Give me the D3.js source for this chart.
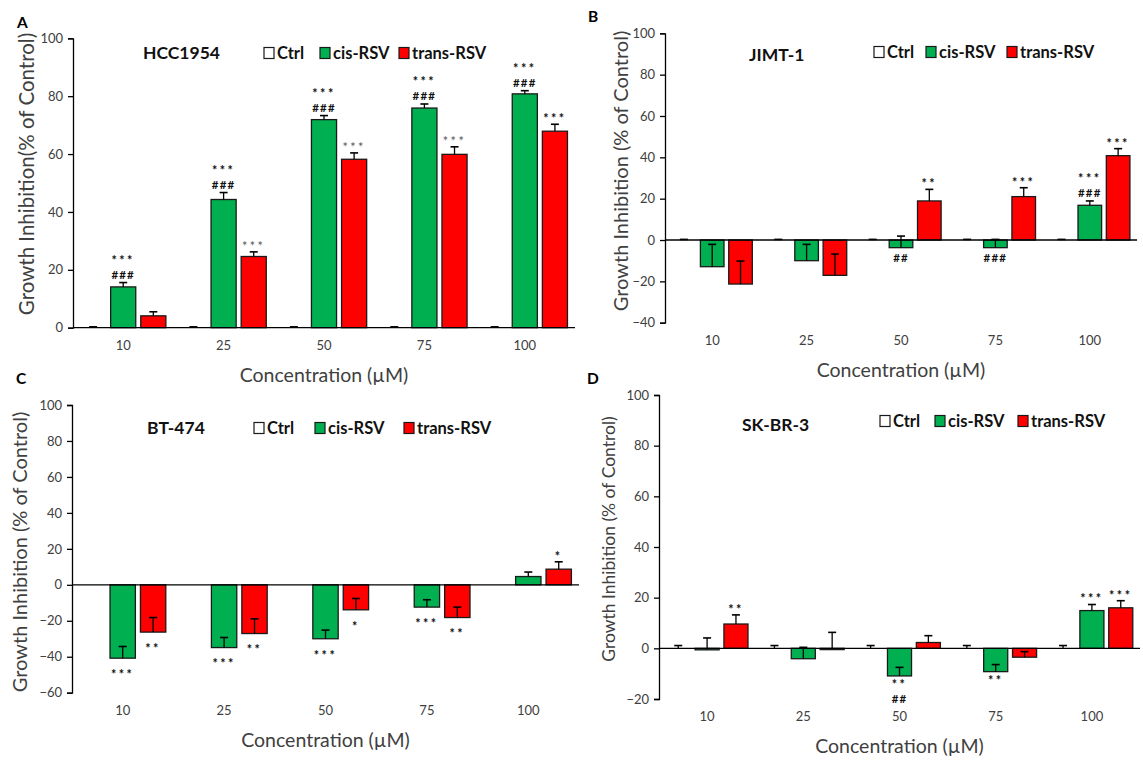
<!DOCTYPE html>
<html>
<head>
<meta charset="utf-8">
<script src="https://cdn.jsdelivr.net/npm/d3@7"></script>
<style>
  body { margin: 0; background: #fff; }
  svg text { font-family: Lato, "Open Sans", sans-serif; }
</style>
</head>
<body>
<svg id="chart" width="1143" height="761"></svg>
<script>
// categories / series
var categories = ["10", "25", "50", "75", "100"];
var seriesNames = ["Ctrl", "cis-RSV", "trans-RSV"];
var seriesColors = ["#ffffff", "#00b050", "#ff0000"];
var zeros = [0, 0, 0, 0, 0];

// A - HCC1954
var hccCtrlErr = [0.3, 0.3, 0.3, 0.3, 0.3];
var hccCis = [14.1, 44.3, 71.9, 75.9, 80.8];
var hccCisErr = [1.5, 2.4, 1.4, 1.4, 1.1];
var hccTrans = [4.1, 24.6, 58.2, 59.9, 67.9];
var hccTransErr = [1.4, 1.6, 2.2, 2.6, 2.4];
var hccMarks = [
  {s: 1, c: 0, t: ["***", "###"]}, {s: 1, c: 1, t: ["***", "###"]}, {s: 1, c: 2, t: ["***", "###"]},
  {s: 1, c: 3, t: ["***", "###"]}, {s: 1, c: 4, t: ["***", "###"]},
  {s: 2, c: 1, t: ["***"], light: true}, {s: 2, c: 2, t: ["***"], light: true},
  {s: 2, c: 3, t: ["***"], light: true}, {s: 2, c: 4, t: ["***"]}
];

// B - JIMT-1
var jimtCtrlErr = [0.3, 0.3, 0.3, 0.3, 0.3];
var jimtCis = [-12.9, -10.0, -3.7, -3.7, 16.8];
var jimtCisErr = [10.8, 7.9, 5.6, 4.0, 2.1];
var jimtTrans = [-21.3, -17.1, 18.9, 21.0, 40.8];
var jimtTransErr = [11.1, 10.3, 5.6, 4.3, 3.4];
var jimtMarks = [
  {s: 1, c: 2, t: ["##"]}, {s: 1, c: 3, t: ["###"]}, {s: 1, c: 4, t: ["***", "###"]},
  {s: 2, c: 2, t: ["**"]}, {s: 2, c: 3, t: ["***"]}, {s: 2, c: 4, t: ["***"]}
];

// C - BT-474
var btCtrlErr = [0, 0, 0, 0, 0];
var btCis = [-40.8, -34.9, -30.0, -12.4, 4.6];
var btCisErr = [6.5, 5.6, 4.8, 4.1, 2.5];
var btTrans = [-26.3, -27.1, -13.9, -18.2, 8.7];
var btTransErr = [8.1, 8.2, 6.3, 5.8, 4.1];
var btMarks = [
  {s: 1, c: 0, t: ["***"]}, {s: 1, c: 1, t: ["***"]}, {s: 1, c: 2, t: ["***"]}, {s: 1, c: 3, t: ["***"]},
  {s: 2, c: 0, t: ["**"]}, {s: 2, c: 1, t: ["**"]}, {s: 2, c: 2, t: ["*"]}, {s: 2, c: 3, t: ["**"]},
  {s: 2, c: 4, t: ["*"]}
];

// D - SK-BR-3
var skCtrlErr = [1.1, 1.1, 1.1, 1.1, 1.1];
var skCis = [-0.6, -4.1, -10.9, -9.2, 14.9];
var skCisErr = [4.7, 4.5, 3.4, 2.8, 2.4];
var skTrans = [9.6, -0.5, 2.3, -3.5, 16.0];
var skTransErr = [3.6, 6.8, 2.7, 2.2, 2.8];
var skMarks = [
  {s: 2, c: 0, t: ["**"]}, {s: 1, c: 2, t: ["**", "##"]}, {s: 1, c: 3, t: ["**"]},
  {s: 1, c: 4, t: ["***"]}, {s: 2, c: 4, t: ["***"]}
];

var panels = [
  {letter: "A", name: "HCC1954", vals: [zeros, hccCis, hccTrans], errs: [hccCtrlErr, hccCisErr, hccTransErr], marks: hccMarks,
   x0: 73, x1: 575, yTop: 38.3, yBot: 327.7, domain: [0, 100], ytitle: "Growth Inhibition(% of Control)",
   tx: 27, ty: 174, tsize: 20.5, nameX: 143, nameY: 59, legX: [264, 320, 399], legY: 53, lx: 17, ly: 28, gap: 12},
  {letter: "B", name: "JIMT-1", vals: [zeros, jimtCis, jimtTrans], errs: [jimtCtrlErr, jimtCisErr, jimtTransErr], marks: jimtMarks,
   x0: 665, x1: 1137, yTop: 33.3, yBot: 322.7, domain: [-40, 100], ytitle: "Growth Inhibition (% of Control)",
   tx: 621, ty: 171, tsize: 20, nameX: 749, nameY: 61, legX: [874, 926, 1007], legY: 52, lx: 588, ly: 22, gap: 10},
  {letter: "C", name: "BT-474", vals: [zeros, btCis, btTrans], errs: [btCtrlErr, btCisErr, btTransErr], marks: btMarks,
   x0: 72, x1: 579, yTop: 405, yBot: 692.7, domain: [-60, 100], ytitle: "Growth Inhibition (% of Control)",
   tx: 20, ty: 552, tsize: 20, nameX: 147, nameY: 434, legX: [254, 315, 404], legY: 428, lx: 16, ly: 384, gap: 14},
  {letter: "D", name: "SK-BR-3", vals: [zeros, skCis, skTrans], errs: [skCtrlErr, skCisErr, skTransErr], marks: skMarks,
   x0: 659, x1: 1140, yTop: 395, yBot: 699, domain: [-20, 100], ytitle: "Growth Inhibition (% of Control)",
   tx: 609, ty: 539, tsize: 17.5, nameX: 742, nameY: 431, legX: [880, 935, 1018], legY: 421, lx: 587, ly: 384, gap: 6}
];

var svg = d3.select("#chart");

panels.forEach(function(p) {
  var g = svg.append("g");
  var x = d3.scaleBand().domain(categories).range([p.x0, p.x1]);
  var bw = x.bandwidth();
  var inner = d3.scaleBand().domain(seriesNames).range([-0.45 * bw, 0.45 * bw])
    .paddingInner(1 / 6).paddingOuter(1 / 12);
  var y = d3.scaleLinear().domain(p.domain).range([p.yBot, p.yTop]);

  // y axis
  var ya = g.append("g").attr("transform", "translate(" + p.x0 + ",0)")
    .call(d3.axisLeft(y).tickValues(d3.range(p.domain[0], p.domain[1] + 1, 20)).tickSize(5).tickPadding(5));
  ya.selectAll("path,line").attr("stroke", "#000").attr("stroke-width", 1.3);
  ya.selectAll("text").attr("font-size", 13).attr("fill", "#404040");

  // category labels
  var xa = g.append("g").attr("transform", "translate(0," + (p.yBot + 13) + ")")
    .call(d3.axisBottom(x).tickSize(0).tickPadding(0));
  xa.select(".domain").remove();
  xa.selectAll("text").attr("font-size", 13).attr("fill", "#404040");

  // bars
  var rows = [];
  categories.forEach(function(c, i) {
    seriesNames.forEach(function(s, k) {
      rows.push({c: c, s: s, k: k, v: p.vals[k][i], e: p.errs[k][i]});
    });
  });
  var cx = function(d) { return x(d.c) + bw / 2 + inner(d.s) + inner.bandwidth() / 2; };

  g.selectAll("rect.bar").data(rows.filter(function(d) { return d.k > 0; })).enter().append("rect")
    .attr("class", "bar")
    .attr("x", function(d) { return x(d.c) + bw / 2 + inner(d.s); })
    .attr("width", inner.bandwidth())
    .attr("y", function(d) { return Math.min(y(d.v), y(0)); })
    .attr("height", function(d) { return Math.abs(y(d.v) - y(0)); })
    .attr("fill", function(d) { return seriesColors[d.k]; })
    .attr("stroke", "#1a1a1a").attr("stroke-width", 1.3);

  // zero line
  g.append("line").attr("x1", p.x0).attr("x2", p.x1).attr("y1", y(0)).attr("y2", y(0))
    .attr("stroke", "#000").attr("stroke-width", 1.3);

  // error bars (plus side only)
  var eb = g.selectAll("g.err").data(rows.filter(function(d) { return d.e > 0; })).enter().append("g");
  eb.append("line")
    .attr("x1", cx).attr("x2", cx)
    .attr("y1", function(d) { return y(d.v); })
    .attr("y2", function(d) { return y(d.v + d.e); })
    .attr("stroke", "#000").attr("stroke-width", 1.3);
  eb.append("line")
    .attr("x1", function(d) { return cx(d) - 4; }).attr("x2", function(d) { return cx(d) + 4; })
    .attr("y1", function(d) { return y(d.v + d.e); })
    .attr("y2", function(d) { return y(d.v + d.e); })
    .attr("stroke", "#000").attr("stroke-width", 1.6);

  // significance marks, one text per bar, one tspan per line
  p.marks.forEach(function(m) {
    var s = seriesNames[m.s];
    var v = p.vals[m.s][m.c], e = p.errs[m.s][m.c];
    var px = x(categories[m.c]) + bw / 2 + inner(s) + inner.bandwidth() / 2;
    var n = m.t.length;
    var t = g.append("text")
      .attr("text-anchor", "middle")
      .attr("font-weight", m.light ? "normal" : "bold")
      .attr("fill", m.light ? "#555" : "#111");
    m.t.forEach(function(txt, i) {
      var center = v >= 0 ? y(v + e) - 8 - 16.5 * (n - 1 - i) : y(v) + p.gap + 16.5 * i;
      var star = txt.charAt(0) === "*";
      var fs = star ? 12.5 : 11.5;
      t.append("tspan")
        .attr("x", px).attr("y", center + (star ? 0.55 : 0.36) * fs)
        .attr("font-size", fs)
        .attr("letter-spacing", star ? 2.5 : 1.2)
        .text(txt);
    });
  });

  // axis titles
  g.append("text").attr("x", (p.x0 + p.x1) / 2).attr("y", p.yBot + 54)
    .attr("text-anchor", "middle").attr("font-size", 19.5).attr("fill", "#404040")
    .text("Concentration (\u00b5M)");
  g.append("text").attr("transform", "translate(" + p.tx + "," + p.ty + ") rotate(-90)")
    .attr("text-anchor", "middle").attr("dy", "0.35em").attr("font-size", p.tsize).attr("fill", "#404040")
    .text(p.ytitle);

  // panel name
  g.append("text").attr("x", p.nameX).attr("y", p.nameY)
    .attr("font-size", 17.5).attr("font-weight", "bold").attr("fill", "#111").text(p.name);

  // legend
  var lg = g.selectAll("g.leg").data(seriesNames).enter().append("g")
    .attr("transform", function(d, i) { return "translate(" + p.legX[i] + "," + p.legY + ")"; });
  lg.append("rect").attr("x", 0).attr("y", -5.5).attr("width", 10).attr("height", 11)
    .attr("fill", function(d, i) { return seriesColors[i]; })
    .attr("stroke", "#1a1a1a").attr("stroke-width", 1.2);
  lg.append("text").attr("x", 13).attr("y", 6).attr("font-size", 16.5).attr("font-weight", "bold")
    .attr("fill", "#111").text(function(d) { return d; });

  // panel letter
  svg.append("text").attr("x", p.lx).attr("y", p.ly)
    .attr("font-family", "Liberation Sans, Arial, sans-serif")
    .attr("font-size", 15.5).attr("font-weight", "bold").text(p.letter);
});
</script>
</body>
</html>
